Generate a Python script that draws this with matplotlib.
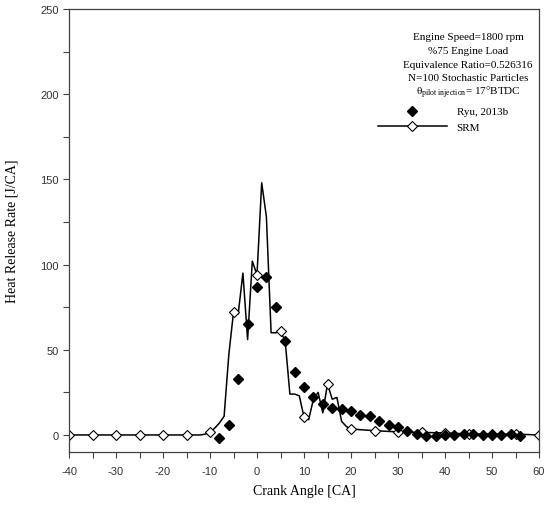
import matplotlib
matplotlib.use('Agg')
import matplotlib.pyplot as plt
from matplotlib.ticker import MultipleLocator

plt.rcParams['mathtext.fontset'] = 'custom'
plt.rcParams['mathtext.rm'] = 'Liberation Serif'
plt.rcParams['mathtext.it'] = 'Liberation Serif:italic'
plt.rcParams['axes.unicode_minus'] = False

# experimental points (Ryu, 2013b)
ryu_ca = [-8, -6, -4, -2, 0, 2, 4, 6, 8, 10, 12, 14, 16, 18, 20, 22, 24, 26, 28,
          30, 32, 34, 36, 38, 40, 42, 44, 46, 48, 50, 52, 54, 56]
ryu_hrr = [-2, 6, 33, 65, 87, 93, 75, 55, 37, 28, 22, 18, 16, 15, 14, 12, 11, 8, 6,
           4.5, 2.5, 0.3, -0.8, -0.8, -0.2, 0.2, 0.6, 0.6, 0.2, 0.2, 0.2, 0.6, -0.8]

# SRM model curve
srm_ca = [-40, -35, -30, -25, -20, -15, -12, -11, -10, -9, -8, -7, -6, -5, -4, -3,
          -2, -1, 0, 1, 2, 3, 4, 5, 6, 7, 8, 9, 10, 11, 12, 13, 14, 15, 16, 17,
          18, 19, 20, 25, 30, 35, 40, 45, 50, 55, 60]
srm_hrr = [0, 0, 0, 0, 0, 0, 0, 0.5, 1.5, 4, 7, 11, 47, 72, 71, 95,
           56, 102, 94, 148, 128, 60, 60, 61, 55, 24, 24, 23, 10.5, 9, 21, 25, 13, 30, 21, 22,
           8, 5, 3.5, 2.5, 1.8, 1.5, 1.2, 0.6, 0.5, 0.5, 0]

info_lines = ['Engine Speed=1800 rpm', '%75 Engine Load', 'Equivalence Ratio=0.526316',
              'N=100 Stochastic Particles',
              r'$\mathrm{\theta_{pilot\ injection}}$= 17°BTDC']

serif = 'Liberation Serif'
sans = 'Liberation Sans'
grey = '#404040'

fig = plt.figure(figsize=(5.44, 5.06), dpi=100)
ax = fig.add_axes([69 / 544, 1 - 453 / 506, 470 / 544, 443 / 506])

marks = [i for i, c in enumerate(srm_ca) if c % 5 == 0]
srm, = ax.plot(srm_ca, srm_hrr, color='black', lw=1.1, marker='D', markersize=5.5,
               markerfacecolor='white', markeredgecolor='black', markeredgewidth=0.8,
               markevery=marks, label='SRM', zorder=2)
ryu, = ax.plot(ryu_ca, ryu_hrr, ls='none', marker='D', markersize=5,
               color='black', label='Ryu, 2013b', zorder=3)

ax.set_xlim(-40, 60)
ax.set_ylim(-10, 250)
ax.xaxis.set_major_locator(MultipleLocator(10))
ax.xaxis.set_minor_locator(MultipleLocator(5))
ax.yaxis.set_major_locator(MultipleLocator(50))
ax.yaxis.set_minor_locator(MultipleLocator(25))
ax.set_yticks([0, 50, 100, 150, 200, 250])
ax.tick_params(which='both', direction='out', length=4, width=0.8, color=grey,
               labelsize=8, labelcolor='#333333', top=False, right=False)
ax.tick_params(axis='x', pad=6)
for lab in ax.get_xticklabels() + ax.get_yticklabels():
    lab.set_family(sans)
for s in ax.spines.values():
    s.set_color(grey)
    s.set_linewidth(0.9)

ax.set_xlabel('Crank Angle [CA]', family=serif, fontsize=10)
ax.set_ylabel('Heat Release Rate [J/CA]', family=serif, fontsize=10)
ax.xaxis.set_label_coords(0.5, -0.072)
ax.yaxis.set_label_coords(-0.108, 0.5)

for k, t in enumerate(info_lines):
    ax.text(0.849, 0.937 - k * 0.0308, t, transform=ax.transAxes, ha='center', va='center',
            family=serif, fontsize=8)

ax.legend(handles=[ryu, srm], loc='upper left', bbox_to_anchor=(0.645, 0.792),
          frameon=False, handlelength=6.2, prop={'family': serif, 'size': 8},
          labelspacing=0.5, handletextpad=0.9, borderpad=0)

fig.savefig('out.png', dpi=100)
